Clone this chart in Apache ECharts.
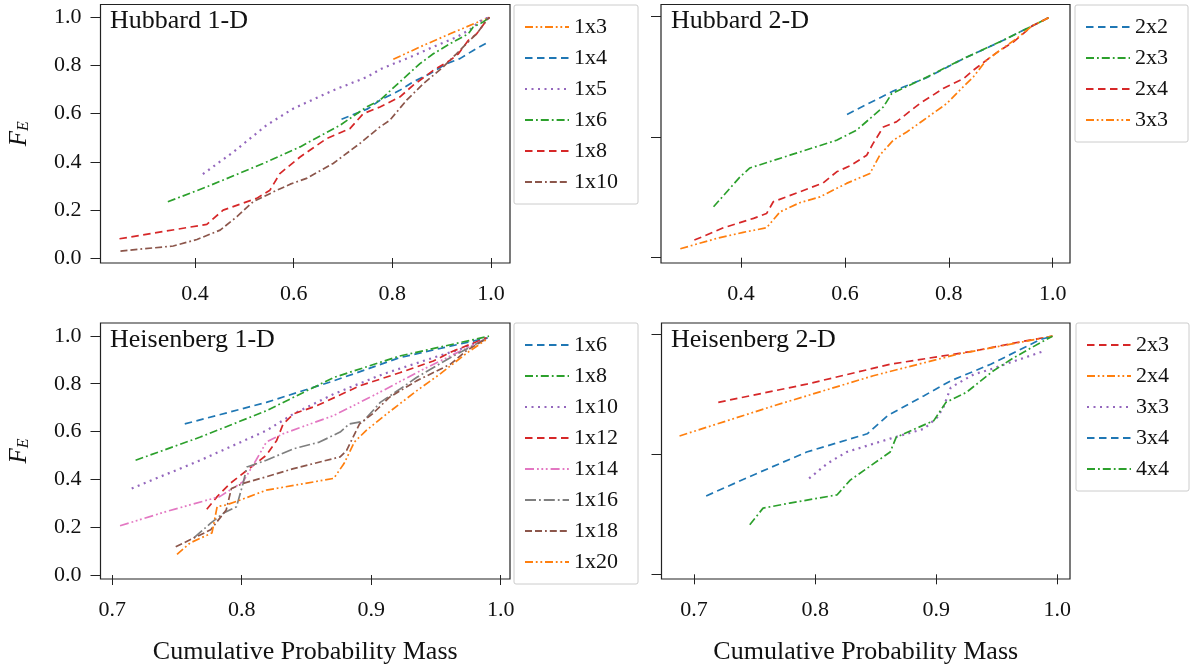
<!DOCTYPE html>
<html><head><meta charset="utf-8">
<script src="https://cdn.jsdelivr.net/npm/echarts@6/dist/echarts.min.js"></script>
<style>html,body{margin:0;padding:0;background:#fff}#c{width:1194px;height:666px}</style>
</head><body><div id="c"></div>
<script>
// ---- Data (x = cumulative probability mass, y = F_E) ----
// Hubbard 1-D
const h1_1x3 = [[0.802,0.826],[0.863,0.884],[0.917,0.932],[0.964,0.973],[0.997,1.0]];
const h1_1x4 = [[0.697,0.577],[0.75,0.62],[0.775,0.656],[0.815,0.697],[0.842,0.732],[0.876,0.766],[0.910,0.808],[0.937,0.829],[0.964,0.863],[0.991,0.894]];
const h1_1x5 = [[0.416,0.349],[0.478,0.441],[0.545,0.552],[0.599,0.621],[0.680,0.697],[0.748,0.752],[0.778,0.787],[0.836,0.835],[0.890,0.884],[0.930,0.918],[0.957,0.949],[0.978,0.985],[0.995,1.0]];
const h1_1x6 = [[0.345,0.234],[0.424,0.296],[0.538,0.393],[0.613,0.462],[0.694,0.552],[0.748,0.628],[0.775,0.656],[0.815,0.732],[0.856,0.808],[0.883,0.849],[0.917,0.891],[0.954,0.932],[0.964,0.960],[0.984,0.981],[0.997,1.0]];
const h1_1x8 = [[0.247,0.080],[0.424,0.140],[0.457,0.199],[0.525,0.248],[0.552,0.282],[0.572,0.351],[0.613,0.420],[0.667,0.497],[0.714,0.538],[0.741,0.600],[0.775,0.628],[0.815,0.669],[0.842,0.718],[0.883,0.780],[0.917,0.822],[0.934,0.849],[0.954,0.905],[0.971,0.932],[0.991,0.988],[0.997,1.0]];
const h1_1x10 = [[0.249,0.029],[0.356,0.050],[0.404,0.077],[0.451,0.116],[0.485,0.172],[0.518,0.234],[0.559,0.275],[0.593,0.307],[0.626,0.331],[0.680,0.393],[0.734,0.476],[0.775,0.545],[0.795,0.573],[0.829,0.656],[0.863,0.725],[0.903,0.794],[0.930,0.849],[0.957,0.905],[0.971,0.932],[0.991,0.988],[0.997,1.0]];
// Hubbard 2-D
const h2_2x2 = [[0.604,0.594],[0.693,0.691],[0.757,0.746],[0.828,0.825],[0.898,0.894],[0.997,1.0]];
const h2_2x3 = [[0.347,0.211],[0.398,0.335],[0.417,0.372],[0.494,0.425],[0.584,0.487],[0.622,0.528],[0.674,0.625],[0.690,0.680],[0.751,0.742],[0.828,0.825],[0.911,0.908],[0.997,1.0]];
const h2_2x4 = [[0.310,0.073],[0.366,0.124],[0.424,0.163],[0.449,0.183],[0.462,0.232],[0.513,0.273],[0.558,0.310],[0.584,0.356],[0.610,0.381],[0.642,0.425],[0.654,0.473],[0.674,0.542],[0.699,0.563],[0.744,0.639],[0.789,0.701],[0.828,0.742],[0.847,0.777],[0.872,0.818],[0.898,0.859],[0.924,0.894],[0.962,0.963],[0.997,1.0]];
const h2_3x3 = [[0.283,0.037],[0.353,0.080],[0.404,0.105],[0.449,0.124],[0.475,0.190],[0.513,0.228],[0.552,0.252],[0.603,0.308],[0.648,0.349],[0.667,0.425],[0.693,0.487],[0.719,0.521],[0.751,0.570],[0.796,0.639],[0.821,0.694],[0.847,0.749],[0.872,0.818],[0.898,0.859],[0.930,0.908],[0.962,0.963],[0.997,1.0]];
// Heisenberg 1-D
const s1_1x6 = [[0.756,0.632],[0.819,0.722],[0.871,0.812],[0.922,0.909],[0.961,0.957],[0.990,0.992]];
const s1_1x8 = [[0.718,0.480],[0.768,0.577],[0.819,0.687],[0.871,0.826],[0.922,0.916],[0.991,0.999]];
const s1_1x10 = [[0.715,0.362],[0.768,0.480],[0.819,0.604],[0.840,0.674],[0.871,0.757],[0.909,0.840],[0.948,0.909],[0.968,0.943],[0.989,0.989]];
const s1_1x12 = [[0.773,0.275],[0.781,0.328],[0.791,0.383],[0.804,0.438],[0.819,0.501],[0.827,0.563],[0.832,0.632],[0.840,0.674],[0.858,0.708],[0.891,0.791],[0.922,0.846],[0.948,0.895],[0.963,0.936],[0.989,0.992]];
const s1_1x14 = [[0.706,0.206],[0.742,0.266],[0.783,0.328],[0.801,0.390],[0.811,0.480],[0.819,0.556],[0.832,0.591],[0.871,0.667],[0.904,0.757],[0.935,0.846],[0.961,0.916],[0.989,0.989]];
const s1_1x16 = [[0.763,0.155],[0.776,0.217],[0.786,0.259],[0.796,0.286],[0.801,0.383],[0.804,0.452],[0.819,0.480],[0.840,0.528],[0.860,0.556],[0.876,0.598],[0.883,0.632],[0.894,0.643],[0.907,0.722],[0.922,0.777],[0.935,0.826],[0.961,0.909],[0.989,0.989]];
const s1_1x18 = [[0.749,0.118],[0.763,0.155],[0.776,0.189],[0.788,0.272],[0.792,0.362],[0.801,0.383],[0.819,0.411],[0.840,0.445],[0.876,0.494],[0.881,0.521],[0.891,0.632],[0.901,0.674],[0.914,0.743],[0.935,0.812],[0.961,0.881],[0.973,0.936],[0.989,0.989]];
const s1_1x20 = [[0.750,0.086],[0.760,0.134],[0.777,0.176],[0.781,0.286],[0.788,0.293],[0.799,0.314],[0.819,0.355],[0.871,0.404],[0.879,0.466],[0.887,0.556],[0.896,0.604],[0.912,0.674],[0.935,0.770],[0.953,0.840],[0.974,0.929],[0.989,0.985]];
// Heisenberg 2-D
const s2_2x3 = [[0.720,0.717],[0.793,0.793],[0.862,0.876],[0.931,0.931],[0.972,0.972],[0.996,0.993]];
const s2_2x4 = [[0.688,0.577],[0.766,0.703],[0.848,0.828],[0.917,0.917],[0.996,0.993]];
const s2_3x3 = [[0.795,0.400],[0.810,0.462],[0.826,0.510],[0.862,0.566],[0.890,0.607],[0.901,0.655],[0.906,0.697],[0.912,0.779],[0.931,0.834],[0.945,0.855],[0.961,0.883],[0.989,0.931]];
const s2_3x4 = [[0.710,0.327],[0.752,0.421],[0.793,0.510],[0.843,0.586],[0.860,0.662],[0.890,0.745],[0.912,0.807],[0.945,0.876],[0.986,0.979],[0.996,0.993]];
const s2_4x4 = [[0.746,0.207],[0.757,0.276],[0.779,0.297],[0.818,0.331],[0.829,0.393],[0.862,0.510],[0.867,0.572],[0.898,0.641],[0.908,0.717],[0.925,0.759],[0.947,0.848],[0.964,0.903],[0.986,0.966],[0.996,0.993]];

const titles = ['Hubbard 1-D','Hubbard 2-D','Heisenberg 1-D','Heisenberg 2-D'];
const xTicksTop = [0.4,0.6,0.8,1.0];
const xTicksBottom = [0.7,0.8,0.9,1.0];
const yTicksLeft = [0.0,0.2,0.4,0.6,0.8,1.0];
const yTicksRight = [0.0,0.5,1.0];
const xLabel = 'Cumulative Probability Mass';

// ---- styles ----
const FONT = 'Liberation Serif';
const C = {blue:'#1f77b4',orange:'#ff7f0e',green:'#2ca02c',red:'#d62728',purple:'#9467bd',brown:'#8c564b',pink:'#e377c2',gray:'#7f7f7f'};
const D = {
  dash:[7.5,4.5], dot:[2,4.5], dashdot:[8,3,1.8,3], dashdotdot:[8,2.8,1.8,2.8,1.8,2.8],
  ddd:[7,3,7,3,1.8,3], longdd:[11,3,1.8,3], dash3dot:[9,3,1.8,2.6,1.8,2.6,1.8,3]
};
const panels = [
  [['1x3',h1_1x3,C.orange,D.dashdotdot],['1x4',h1_1x4,C.blue,D.dash],['1x5',h1_1x5,C.purple,D.dot],['1x6',h1_1x6,C.green,D.dashdot],['1x8',h1_1x8,C.red,D.dash],['1x10',h1_1x10,C.brown,D.ddd]],
  [['2x2',h2_2x2,C.blue,D.dash],['2x3',h2_2x3,C.green,D.dashdot],['2x4',h2_2x4,C.red,D.dash],['3x3',h2_3x3,C.orange,D.dashdotdot]],
  [['1x6',s1_1x6,C.blue,D.dash],['1x8',s1_1x8,C.green,D.dashdot],['1x10',s1_1x10,C.purple,D.dot],['1x12',s1_1x12,C.red,D.dash],['1x14',s1_1x14,C.pink,D.dash3dot],['1x16',s1_1x16,C.gray,D.longdd],['1x18',s1_1x18,C.brown,D.ddd],['1x20',s1_1x20,C.orange,D.dashdotdot]],
  [['2x3',s2_2x3,C.red,D.dash],['2x4',s2_2x4,C.orange,D.dashdotdot],['3x3',s2_3x3,C.purple,D.dot],['3x4',s2_3x4,C.blue,D.dash],['4x4',s2_4x4,C.green,D.dashdot]]
];
const grids = [
  {left:100.5,top:4.5,width:409.5,height:258.5},
  {left:661,top:4.5,width:409,height:258.5},
  {left:100.5,top:323,width:409.5,height:258},
  {left:661.5,top:323,width:408.5,height:258}
];
const xr = [[0.2085,1.0385],[0.2458,1.0333],[0.6909,1.0072],[0.6731,1.0105]];
const yr = [[-0.0207,1.0539],[-0.022,1.0497],[-0.0166,1.054],[-0.0195,1.048]];
const legendPos = [{left:514,top:5},{left:1075,top:5},{left:514,top:323},{left:1076,top:323}];
const titlePos = [{left:110,top:8},{left:671,top:8},{left:110,top:327},{left:671,top:327}];

const tickStyle = {show:true,length:10,inside:false,lineStyle:{color:'#222',width:1}};
const xAxes = [], yAxes = [], series = [], legends = [], titleArr = [];
for (let i=0;i<4;i++){
  const bottom = i>=2, right = i%2===1;
  const xt = bottom ? xTicksBottom : xTicksTop;
  xAxes.push({type:'value',gridIndex:i,min:xr[i][0],max:xr[i][1],axisLine:{show:false},splitLine:{show:false},
    axisTick:Object.assign({customValues:xt},tickStyle),
    axisLabel:{customValues:xt,formatter:v=>v.toFixed(1),margin:20,fontFamily:FONT,fontSize:22,color:'#111'},
    name: bottom ? xLabel : '', nameLocation:'middle', nameGap:60,
    nameTextStyle:{fontFamily:FONT,fontSize:26,color:'#111'}});
  const yt = right ? yTicksRight : yTicksLeft;
  yAxes.push({type:'value',gridIndex:i,min:yr[i][0],max:yr[i][1],axisLine:{show:false},splitLine:{show:false},
    axisTick:Object.assign({customValues:yt},tickStyle),
    axisLabel:{show:!right,customValues:yt,formatter:v=>v.toFixed(1),margin:19,fontFamily:FONT,fontSize:22,color:'#111'},
    name: right ? '' : '{f|F}{s|E}', nameLocation:'middle', nameGap:69, nameRotate:90,
    nameTextStyle:{rich:{
      f:{fontFamily:FONT,fontStyle:'italic',fontSize:25,lineHeight:25,verticalAlign:'top',color:'#111'},
      s:{fontFamily:FONT,fontStyle:'italic',fontSize:16,lineHeight:16,verticalAlign:'bottom',padding:[11,0,0,0],color:'#111'}}}});
  const names = [];
  panels[i].forEach(([lab,data,color,dash])=>{
    const nm = i+'|'+lab;
    names.push(nm);
    series.push({type:'line',name:nm,xAxisIndex:i,yAxisIndex:i,data:data,symbol:'none',showSymbol:false,
      lineStyle:{color:color,width:dash===D.dot?2.2:1.7,type:dash},itemStyle:{color:color},animation:false});
  });
  legends.push(Object.assign({orient:'vertical',data:names,formatter:n=>n.split('|')[1],
    itemWidth:44,itemHeight:14,itemGap:9,padding:[11,20,11,10],
    itemStyle:{color:'rgba(0,0,0,0)',borderColor:'rgba(0,0,0,0)',borderWidth:0},
    backgroundColor:'#fff',borderColor:'#cccccc',borderWidth:1,borderRadius:2,
    textStyle:{fontFamily:FONT,fontSize:22,lineHeight:20,color:'#111'},selectedMode:false},legendPos[i]));
  titleArr.push(Object.assign({text:titles[i],padding:0,textStyle:{fontFamily:FONT,fontSize:26,fontWeight:'normal',color:'#111'}},titlePos[i]));
}
const chart = echarts.init(document.getElementById('c'),null,{renderer:'canvas'});
chart.setOption({
  animation:false,
  backgroundColor:'#fff',
  title:titleArr,
  grid:grids.map(g=>Object.assign({show:true,borderColor:'#222',borderWidth:1.2,backgroundColor:'transparent',containLabel:false},g)),
  xAxis:xAxes, yAxis:yAxes, legend:legends, series:series
});
</script></body></html>
